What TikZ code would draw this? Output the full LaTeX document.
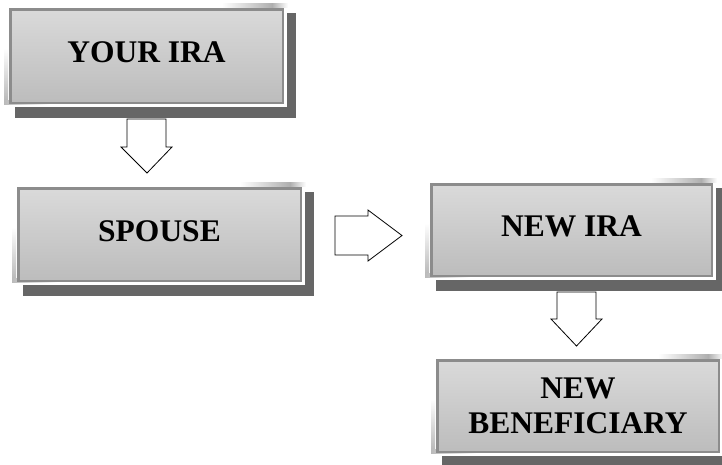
\documentclass[tikz,border=0pt]{standalone}
\usepackage{fontspec}
\setmainfont{Liberation Serif}
\usetikzlibrary{backgrounds}
\definecolor{boxtop}{HTML}{DADADA}
\definecolor{boxbot}{HTML}{BCBCBC}
\definecolor{boxline}{HTML}{8C8C8C}
\definecolor{shadowgray}{HTML}{666666}
\tikzset{
  flowbox/.style={draw=boxline, line width=2.5pt, top color=boxtop, bottom color=boxbot,
    font=\bfseries\fontsize{31.5}{35}\selectfont, align=center, inner sep=0pt},
  oneline/.style={text depth=7pt},
  blockarrow/.style={draw=black, line width=0.8pt, fill=white, line join=miter},
}
\begin{document}
\begin{tikzpicture}[x=1pt,y=-1pt]
\useasboundingbox (0,0) rectangle (722,464);
\node[flowbox, oneline, minimum width=272.5pt, minimum height=93.5pt] (ira) at (146.5,56) {YOUR IRA};
\node[flowbox, oneline, minimum width=282.5pt, minimum height=92.5pt] (spouse) at (159.5,234.5) {SPOUSE};
\node[flowbox, oneline, minimum width=280.5pt, minimum height=91.5pt] (newira) at (571.5,230) {NEW IRA};
\node[flowbox, minimum width=281.5pt, minimum height=91.5pt] (benef) at (578,406) {NEW\\BENEFICIARY};
\begin{scope}[on background layer]
  \foreach \n in {ira,spouse,newira,benef}{
    \fill[shadowgray] ([xshift=6pt,yshift=-5pt]\n.north west) rectangle ([xshift=12pt,yshift=-14pt]\n.south east);
    \fill[white] ([xshift=-3pt,yshift=3pt]\n.north west) rectangle ([xshift=3pt,yshift=-3pt]\n.south east);
    \shade[left color=white, right color=boxline!70] ([xshift=-62pt,yshift=5pt]\n.north east) rectangle ([xshift=-12pt,yshift=1pt]\n.north east);
    \shade[left color=boxline!70, right color=white] ([xshift=-12pt,yshift=5pt]\n.north east) rectangle ([xshift=4pt,yshift=1pt]\n.north east);
    \shade[top color=white, bottom color=boxline!60] ([xshift=-5pt,yshift=-40pt]\n.north west) rectangle ([xshift=-1pt,yshift=4pt]\n.south west);
    \shade[left color=boxline!60, right color=white] ([xshift=-5pt,yshift=4pt]\n.south west) rectangle ([xshift=40pt,yshift=0pt]\n.south west);
  }
\end{scope}
% block arrows
\draw[blockarrow] (127,119) -- (166,119) -- (166,147) -- (172,147) -- (147,173) -- (121,147) -- (127,147) -- cycle;
\draw[blockarrow] (335,216) -- (368,216) -- (368,210) -- (402,235.5) -- (368,261) -- (368,255) -- (335,255) -- cycle;
\draw[blockarrow] (557,292) -- (596,292) -- (596,319) -- (602,319) -- (576.5,346) -- (551,319) -- (557,319) -- cycle;
\end{tikzpicture}
\end{document}
